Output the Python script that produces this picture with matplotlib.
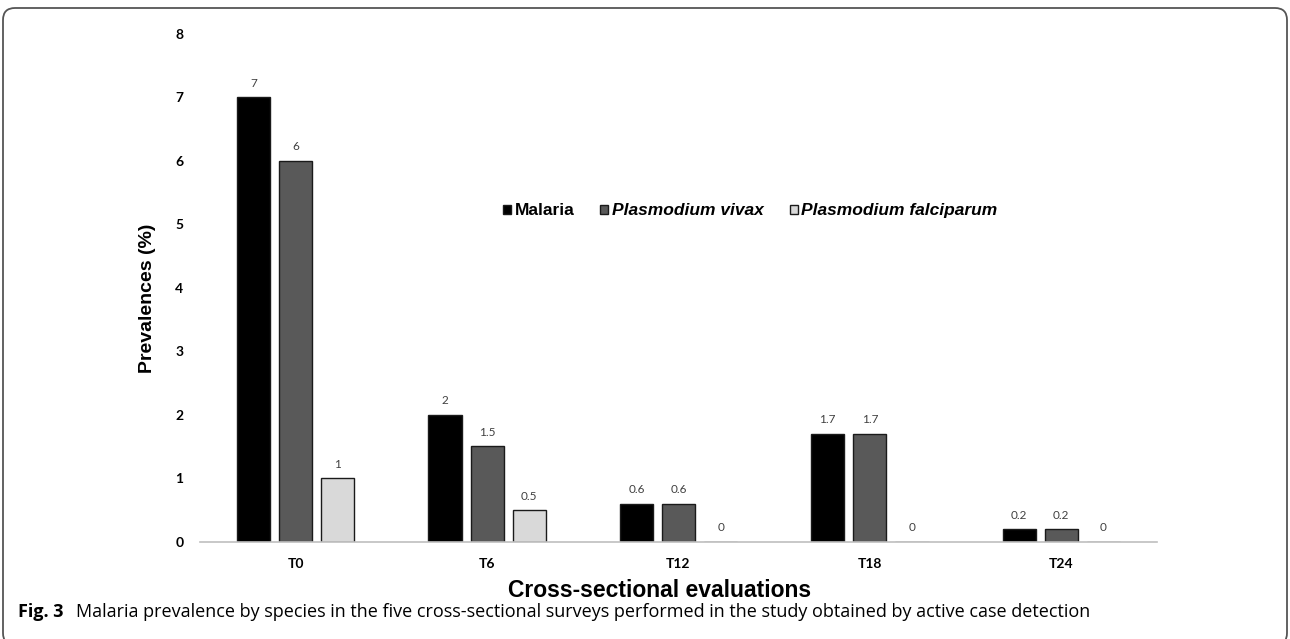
import numpy as np
import matplotlib
matplotlib.use('Agg')
import matplotlib.pyplot as plt
from matplotlib.patches import FancyBboxPatch

surveys = ['T0', 'T6', 'T12', 'T18', 'T24']
malaria = [7, 2, 0.6, 1.7, 0.2]
vivax = [6, 1.5, 0.6, 1.7, 0.2]
falciparum = [1, 0.5, 0, 0, 0]

series_names = ['Malaria', 'Plasmodium vivax', 'Plasmodium falciparum']
series_colors = ['#000000', '#595959', '#d9d9d9']

W, H = 1290, 639
fig = plt.figure(figsize=(W / 100, H / 100), dpi=100)
fig.patch.set_facecolor('white')

# rounded frame around the whole figure (pixel units via inches transform)
frame = FancyBboxPatch((3 / 100, -6 / 100), (W - 6) / 100, (H - 8 + 6) / 100,
                       boxstyle='round,pad=0,rounding_size=0.12',
                       transform=fig.dpi_scale_trans, fill=False,
                       edgecolor='#555555', linewidth=1.3, clip_on=False)
fig.patches.append(frame)

ax = fig.add_axes([200 / W, (H - 541.7) / H, 957 / W, 508.1 / H])

x = np.arange(len(surveys))
width = 0.173
step = 0.22
for i, (vals, name, col) in enumerate(zip([malaria, vivax, falciparum], series_names, series_colors)):
    bars = ax.bar(x + (i - 1) * step, vals, width, color=col, edgecolor='#1a1a1a',
                  linewidth=1.0, label=name)
    ax.bar_label(bars, labels=[f'{v:g}' for v in vals], padding=6,
                 fontsize=8.5, color='#404040', family='Lato')

ax.set_xlim(-0.5, 4.5)
ax.set_ylim(0, 8)
ax.set_yticks(range(0, 9))
ax.set_xticks(x)
ax.set_xticklabels(surveys)
for s in ['top', 'right', 'left']:
    ax.spines[s].set_visible(False)
ax.spines['bottom'].set_color('#bfbfbf')
ax.spines['bottom'].set_linewidth(1.2)
ax.tick_params(axis='y', length=0, pad=12)
ax.tick_params(axis='x', length=0, pad=12)
for lab in ax.get_yticklabels() + ax.get_xticklabels():
    lab.set_family('Lato')
    lab.set_fontweight('bold')
    lab.set_fontsize(10)

leg = ax.legend(ncol=3, loc='center', bbox_to_anchor=(0.575, 0.651), frameon=False,
                handlelength=0.46, handleheight=0.46, handletextpad=0.2,
                columnspacing=1.5,
                prop={'family': 'Liberation Sans', 'weight': 'bold', 'size': 12.5})
for t in leg.get_texts()[1:]:
    t.set_style('italic')

fig.text(660 / W, 1 - 597 / H, 'Cross-sectional evaluations', ha='center', va='baseline',
         family='Liberation Sans', fontweight='bold', fontsize=16.5)
fig.text(148 / W, 1 - 298 / H, 'Prevalences (%)', ha='center', va='center', rotation=90,
         family='Liberation Sans', fontweight='bold', fontsize=14)

cap = fig.text(18 / W, 1 - 617 / H, 'Fig. 3', ha='left', va='baseline',
               family='Open Sans', fontweight='bold', fontsize=13)
ax.annotate('Malaria prevalence by species in the five cross-sectional surveys performed in the study obtained by active case detection',
            xy=(1, 0), xycoords=cap, xytext=(9, 0), textcoords='offset points',
            ha='left', va='bottom', family='Open Sans', fontsize=13,
            annotation_clip=False)

fig.savefig('out.png', dpi=100)
